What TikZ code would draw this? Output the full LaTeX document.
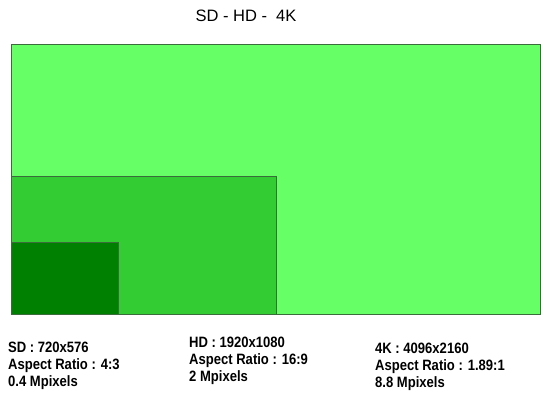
\documentclass[tikz,border=0pt]{standalone}
\usepackage{fontspec}
\setmainfont{Liberation Sans}
\newfontfamily\narrowbold[FakeStretch=0.87]{Liberation Sans Bold}
\definecolor{fourk}{HTML}{66FF66}
\definecolor{hdgreen}{HTML}{33CC33}
\definecolor{sdgreen}{HTML}{008000}
\definecolor{edge}{HTML}{3A6B3A}
\tikzset{
  res/.style={draw=edge, line width=1pt},
  lbl/.style={anchor=north west, align=left, font=\narrowbold\fontsize{15}{17}\selectfont, inner sep=0pt},
  ttl/.style={font=\fontsize{16.5}{18}\selectfont, inner sep=0pt}
}
\begin{document}
\begin{tikzpicture}[x=1pt,y=-1pt]
\useasboundingbox (0,0) rectangle (550,400);
\path[res, fill=fourk] (11,44) rectangle (540,314);
\path[res, fill=hdgreen] (11,176) rectangle (276,314);
\path[res, fill=sdgreen] (11,242) rectangle (118,314);
\node[ttl] (title) at (246,16) {SD - HD -\ \ 4K};
\node[lbl] (sdl) at (8,342) {SD : 720x576\\Aspect Ratio : 4:3\\0.4 Mpixels};
\node[lbl] (hdl) at (189,337) {HD : 1920x1080\\Aspect Ratio : 16:9\\2 Mpixels};
\node[lbl] (fkl) at (375,343) {4K : 4096x2160\\Aspect Ratio : 1.89:1\\8.8 Mpixels};
\end{tikzpicture}
\end{document}
